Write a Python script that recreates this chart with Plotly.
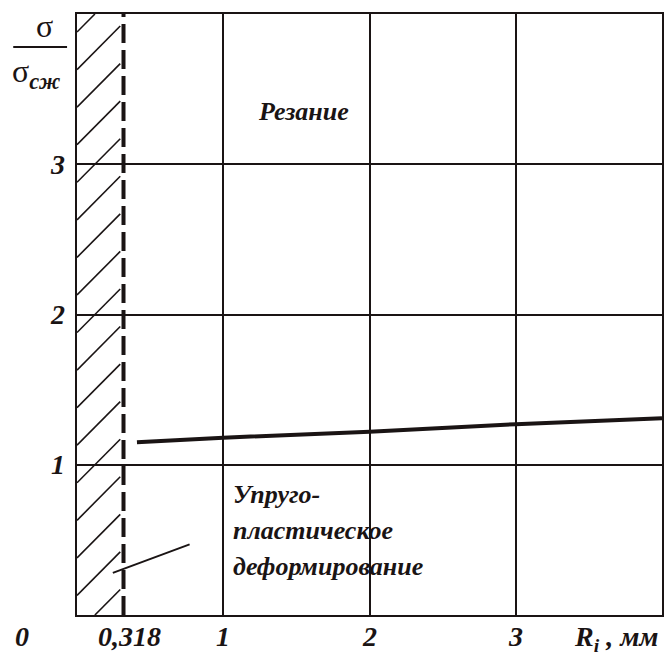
import plotly.graph_objects as go

# Stress ratio sigma/sigma_cж versus radius R_i (mm)
radius_mm = [0.41, 1.0, 2.0, 3.0, 4.0]
stress_ratio = [1.15, 1.18, 1.22, 1.27, 1.31]

# Boundary of the hatched zone
boundary_r = 0.318

x_tick_vals = [0, 0.318, 1, 2, 3]
x_tick_text = ["0", "0,318", "1", "2", "3"]
y_tick_vals = [1, 2, 3]
y_tick_text = ["1", "2", "3"]

x_range = [0, 4]
y_range = [0, 4]

SERIF = "Liberation Serif, Times New Roman, DejaVu Serif, serif"
BLACK = "#1a1414"

fig = go.Figure()

# Hatching of the zone left of the boundary: 45-degree strokes,
# clipped to the rectangle [0, boundary_r] x [y_range]
hatch_step = 0.25
hatch_slope = 0.98
hx, hy = [], []
y0 = 3.88
while y0 > -hatch_slope * boundary_r:
    xa, ya = 0.0, y0
    if ya < y_range[0]:
        xa, ya = (y_range[0] - y0) / hatch_slope, y_range[0]
    xb, yb = boundary_r * 0.93, y0 + hatch_slope * boundary_r * 0.93
    if yb > y_range[1]:
        xb, yb = (y_range[1] - y0) / hatch_slope, y_range[1]
    hx += [xa, xb, None]
    hy += [ya, yb, None]
    y0 -= hatch_step

fig.add_trace(go.Scatter(
    x=hx, y=hy, mode="lines", line=dict(color=BLACK, width=1.6),
    hoverinfo="skip", showlegend=False, connectgaps=False,
))

# Dashed boundary line
fig.add_trace(go.Scatter(
    x=[boundary_r, boundary_r], y=y_range, mode="lines",
    line=dict(color=BLACK, width=4, dash="19px,7px"),
    hoverinfo="skip", showlegend=False,
))

# Stress curve
fig.add_trace(go.Scatter(
    x=radius_mm, y=stress_ratio, mode="lines",
    line=dict(color=BLACK, width=4),
    showlegend=False,
))

TICK_FONT = dict(family=SERIF, size=28, color=BLACK)
LABEL_FONT = dict(family=SERIF, size=26, color=BLACK)

annotations = []
for v, t in zip(x_tick_vals, x_tick_text):
    shift = -55 if v == 0 else (6 if v == 0.318 else 0)
    annotations.append(dict(
        x=v, y=0, xref="x", yref="y", text=f"<b><i>{t}</i></b>",
        showarrow=False, xanchor="center", yanchor="top", yshift=-4,
        xshift=shift, font=TICK_FONT,
    ))
annotations.append(dict(
    x=4, y=0, xref="x", yref="y",
    text="<b><i>R<sub>i</sub> , мм</i></b>",
    showarrow=False, xanchor="right", yanchor="top", yshift=-4, xshift=-1,
    font=TICK_FONT,
))
for v, t in zip(y_tick_vals, y_tick_text):
    annotations.append(dict(
        x=0, y=v, xref="x", yref="y", text=f"<b><i>{t}</i></b>",
        showarrow=False, xanchor="right", yanchor="middle", xshift=-10,
        font=TICK_FONT,
    ))

# Axis title as a fraction sigma / sigma_cж
annotations.append(dict(
    x=-0.055, y=0.947, xref="paper", yref="paper", text="σ",
    showarrow=False, xanchor="center", yanchor="bottom",
    font=dict(family=SERIF, size=32, color=BLACK),
))
annotations.append(dict(
    x=-0.114, y=0.938, xref="paper", yref="paper",
    text="σ<sub><b><i>сж</i></b></sub>",
    showarrow=False, xanchor="left", yanchor="top",
    font=dict(family=SERIF, size=32, color=BLACK),
))

# Region labels
annotations.append(dict(
    x=1.55, y=3.35, xref="x", yref="y", text="<b><i>Резание</i></b>",
    showarrow=False, xanchor="center", yanchor="middle", font=LABEL_FONT,
))
for yy, line in zip([0.8, 0.565, 0.32], ["Упруго-", "пластическое", "деформирование"]):
    annotations.append(dict(
        x=1.05, y=yy, xref="x", yref="y", text=f"<b><i>{line}</i></b>",
        showarrow=False, xanchor="left", yanchor="middle", font=LABEL_FONT,
    ))

shapes = [
    # fraction bar of the axis title
    dict(type="line", xref="paper", yref="paper",
         x0=-0.109, x1=-0.017, y0=0.945, y1=0.945,
         line=dict(color=BLACK, width=2)),
    # leader line from the label into the hatched zone
    dict(type="line", xref="x", yref="y",
         x0=0.245, y0=0.28, x1=0.77, y1=0.47,
         line=dict(color=BLACK, width=2)),
]

axis_common = dict(
    showgrid=True, gridcolor=BLACK, gridwidth=2, dtick=1, tick0=0,
    zeroline=False, showline=True, linecolor=BLACK, linewidth=2,
    mirror=True, showticklabels=False, ticks="",
)

fig.update_layout(
    width=665, height=655,
    margin=dict(l=77, r=1, t=14, b=40),
    paper_bgcolor="white", plot_bgcolor="white",
    xaxis=dict(range=x_range, **axis_common),
    yaxis=dict(range=y_range, **axis_common),
    annotations=annotations,
    shapes=shapes,
    showlegend=False,
)

fig.write_html("out.html")
